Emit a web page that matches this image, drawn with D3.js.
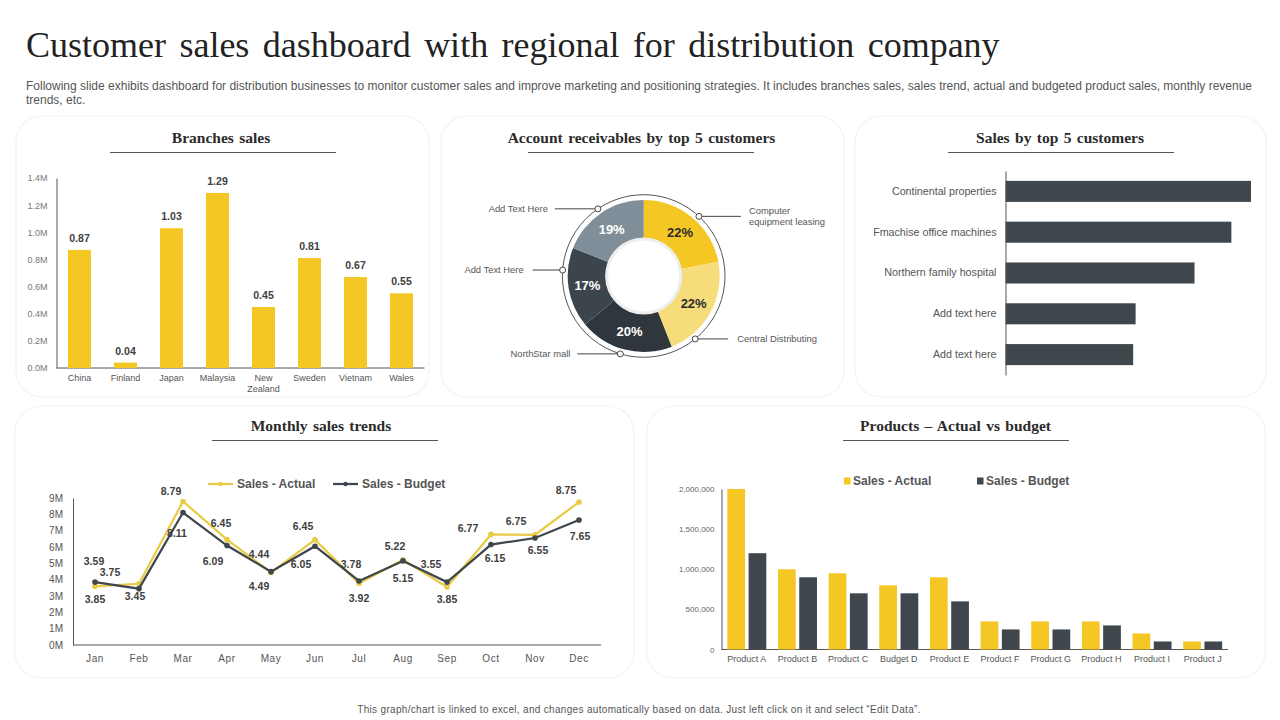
<!DOCTYPE html>
<html>
<head>
<meta charset="utf-8">
<script src="https://cdn.jsdelivr.net/npm/d3@7"></script>
<style>
  body { margin: 0; background: #fff; }
  text { font-family: "Liberation Sans", Arial, sans-serif; }
  .serif { font-family: "Liberation Serif", "Times New Roman", serif; }
  .domain { stroke: #555; }
</style>
</head>
<body>
<div id="chart"></div>
<script>
// branches sales
const branches = ["China", "Finland", "Japan", "Malaysia", "New Zealand", "Sweden", "Vietnam", "Wales"];
const branchSales = [0.87, 0.04, 1.03, 1.29, 0.45, 0.81, 0.67, 0.55];
const branchTicks = [0, 0.2, 0.4, 0.6, 0.8, 1.0, 1.2, 1.4];

// account receivables
const receivableShares = [22, 22, 20, 17, 19];
const receivableColors = ["#F4C724", "#F7DC7B", "#2F363C", "#3D454C", "#7F8E99"];
const receivableLabelColors = ["#2b2b2b", "#2b2b2b", "#fff", "#fff", "#fff"];
const calloutLabels = [["Computer", "equipment leasing"], ["Central Distributing"], ["NorthStar mall"], ["Add Text Here"], ["Add Text Here"]];
const calloutAngles = [42.8, 140.7, 196.7, 274.2, 325.7];
const calloutLengths = [42, 33, 43, 30, 43];
const calloutGaps = [8, 9, 7, 9, 7];

// top customers
const customers = ["Continental properties", "Fmachise office machines", "Northern family hospital", "Add text here", "Add text here "];
const customerSales = [100, 92, 77, 53, 52];

// monthly trends
const months = ["Jan", "Feb", "Mar", "Apr", "May", "Jun", "Jul", "Aug", "Sep", "Oct", "Nov", "Dec"];
const salesActual = [3.59, 3.75, 8.79, 6.45, 4.44, 6.45, 3.78, 5.22, 3.55, 6.77, 6.75, 8.75];
const salesBudget = [3.85, 3.45, 8.11, 6.09, 4.49, 6.05, 3.92, 5.15, 3.85, 6.15, 6.55, 7.65];
const monthTicks = [0, 1, 2, 3, 4, 5, 6, 7, 8, 9];
// label nudges, px from the point
const actualNudge = [[-1,-25],[-29,-11],[-12,-10],[-6,-16],[-12,-18],[-12,-13],[-8,-19],[-8,-13],[-16,-23],[-23,-6],[-19,-13],[-13,-12]];
const budgetNudge = [[0,17],[-4,8],[-6,21],[-14,16],[-12,15],[-14,18],[0,17],[0,17],[0,17],[4,14],[3,12],[1,16]];

// products
const products = ["Product A", "Product B", "Product C", "Budget D", "Product E", "Product F", "Product G", "Product H", "Product I", "Product J"];
const productActual = [2000000, 1000000, 950000, 800000, 900000, 350000, 350000, 350000, 200000, 100000];
const productBudget = [1200000, 900000, 700000, 700000, 600000, 250000, 250000, 300000, 100000, 100000];
const productTicks = [0, 500000, 1000000, 1500000, 2000000];
const productSeries = ["Sales - Actual", "Sales - Budget"];

const yellow = "#F4C724", dark = "#3F474D", lineYellow = "#E9CB45";

const svg = d3.select("#chart").append("svg")
  .attr("width", 1280)
  .attr("height", 720)
  .style("display", "block");

// header
svg.append("text").attr("class", "serif")
  .attr("x", 26).attr("y", 57)
  .style("font-size", "36px").style("word-spacing", "4.4px").attr("fill", "#222")
  .text("Customer sales dashboard with regional for distribution company");

const intro = [
  "Following slide exhibits dashboard for distribution businesses to monitor customer sales and improve marketing and positioning strategies. It includes branches sales, sales trend, actual and budgeted product sales, monthly revenue",
  "trends, etc."
];
svg.selectAll(".intro").data(intro).join("text")
  .attr("class", "intro")
  .attr("x", 26).attr("y", (d, i) => 90 + i * 14)
  .style("font-size", "12px").attr("fill", "#555")
  .text(d => d);

svg.append("text")
  .attr("x", 639).attr("y", 713).attr("text-anchor", "middle")
  .style("font-size", "10px").style("letter-spacing", "0.32px").attr("fill", "#555")
  .text("This graph/chart is linked to excel, and changes automatically based on data. Just left click on it and select \u201CEdit Data\u201D.");

// cards
function card(x0, y0, x1, y1, title, titleX, cx, ruleY) {
  svg.append("rect")
    .attr("x", x0).attr("y", y0)
    .attr("width", x1 - x0).attr("height", y1 - y0)
    .attr("rx", 26)
    .attr("fill", "#fff").attr("stroke", "#f4f5f6").attr("stroke-width", 1.5);
  svg.append("text").attr("class", "serif")
    .attr("x", titleX).attr("y", ruleY - 10).attr("text-anchor", "middle")
    .style("font-size", "15.5px").style("font-weight", "bold").style("word-spacing", "1.5px").attr("fill", "#2b2b2b")
    .text(title);
  svg.append("line")
    .attr("x1", cx - 113).attr("x2", cx + 113)
    .attr("y1", ruleY).attr("y2", ruleY)
    .attr("stroke", "#555");
}
card(16, 116, 429, 397, "Branches sales", 221, 223, 152.5);
card(441, 116, 844, 397, "Account receivables by top 5 customers", 641.5, 641, 152.5);
card(855, 116, 1266, 397, "Sales by top 5 customers", 1060, 1061, 152.5);
card(15, 406, 634, 678, "Monthly sales trends", 321, 325, 440.5);
card(647, 406, 1265, 678, "Products  \u2013 Actual vs budget", 955.5, 956, 440.5);

function styleAxis(g, size, color) {
  g.selectAll("text").style("font-size", size).attr("fill", color);
  g.selectAll(".tick line").remove();
}

// Branches sales
{
  const x = d3.scaleBand().domain(branches).range([56.5, 424.5]);
  const y = d3.scaleLinear().domain([0, 1.4]).range([368, 178]);

  svg.append("g").attr("transform", "translate(56.5,0)")
    .call(d3.axisLeft(y).tickValues(branchTicks).tickFormat(d => d.toFixed(1) + "M").tickSize(0).tickPadding(9))
    .call(styleAxis, "9px", "#777");
  const xAxis = svg.append("g").attr("transform", "translate(0,368)")
    .call(d3.axisBottom(x).tickSize(0).tickPadding(7))
    .call(styleAxis, "9px", "#555");
  xAxis.select(".domain").attr("d", "M56.5,0H424.5");

  // wrap the two word category
  xAxis.selectAll("text").each(function (d) {
    const words = d.split(" ");
    if (words.length < 2) return;
    const t = d3.select(this).text(null);
    words.forEach((w, i) => t.append("tspan").attr("x", 0).attr("dy", i ? "1.2em" : "0.71em").text(w));
    t.attr("dy", null);
  });

  const barW = 23;
  svg.selectAll(".branch").data(branches).join("rect")
    .attr("class", "branch")
    .attr("x", d => x(d) + x.bandwidth() / 2 - barW / 2)
    .attr("y", (d, i) => y(branchSales[i]))
    .attr("width", barW)
    .attr("height", (d, i) => y(0) - y(branchSales[i]))
    .attr("fill", yellow);
  svg.selectAll(".branch-label").data(branches).join("text")
    .attr("class", "branch-label")
    .attr("x", d => x(d) + x.bandwidth() / 2)
    .attr("y", (d, i) => y(branchSales[i]) - 8)
    .attr("text-anchor", "middle")
    .style("font-size", "10.5px").style("font-weight", "bold").attr("fill", "#404040")
    .text((d, i) => branchSales[i].toFixed(2));
}

// Account receivables donut
{
  const g = svg.append("g").attr("transform", "translate(643.7,276)");
  const pie = d3.pie().sort(null)(receivableShares);
  const arc = d3.arc().innerRadius(38).outerRadius(76);
  const labelArc = d3.arc().innerRadius(57).outerRadius(57);
  const ringR = 81.3;

  g.append("circle").attr("r", ringR).attr("fill", "none").attr("stroke", "#555").attr("stroke-width", 1);
  g.selectAll(".slice").data(pie).join("path")
    .attr("class", "slice")
    .attr("d", arc)
    .attr("fill", (d, i) => receivableColors[i]);
  g.append("circle").attr("r", 37).attr("fill", "#fff").attr("stroke", "#eeeeee").attr("stroke-width", 3);
  g.selectAll(".share").data(pie).join("text")
    .attr("class", "share")
    .attr("transform", d => `translate(${labelArc.centroid(d)})`)
    .attr("text-anchor", "middle").attr("dy", "0.36em")
    .style("font-size", "13px").style("font-weight", "bold")
    .attr("fill", (d, i) => receivableLabelColors[i])
    .text(d => d.data + "%");

  calloutAngles.forEach((deg, i) => {
    const [px, py] = d3.pointRadial(deg * Math.PI / 180, ringR);
    const side = deg < 180 ? 1 : -1;
    const endX = px + side * calloutLengths[i];
    g.append("line").attr("x1", px).attr("x2", endX).attr("y1", py).attr("y2", py).attr("stroke", "#444");
    g.append("circle").attr("cx", px).attr("cy", py).attr("r", 3).attr("fill", "#fff").attr("stroke", "#444");
    const lines = calloutLabels[i];
    g.selectAll(null).data(lines).join("text")
      .attr("x", endX + side * calloutGaps[i])
      .attr("y", (d, j) => py + 3 + (j - (lines.length - 1) / 2) * 11)
      .attr("text-anchor", side > 0 ? "start" : "end")
      .style("font-size", "9.4px").attr("fill", "#555")
      .text(d => d);
  });
}

// Sales by top 5 customers
{
  const y = d3.scaleBand().domain(customers).range([171, 375]).paddingInner(0.484).paddingOuter(0.242);
  const x = d3.scaleLinear().domain([0, 100]).range([1005.5, 1251]);

  svg.selectAll(".customer").data(customers).join("rect")
    .attr("class", "customer")
    .attr("x", x(0))
    .attr("y", d => y(d))
    .attr("width", (d, i) => x(customerSales[i]) - x(0))
    .attr("height", y.bandwidth())
    .attr("fill", dark);
  svg.append("g").attr("transform", "translate(1005.5,0)")
    .call(d3.axisLeft(y).tickSize(0).tickPadding(9))
    .call(styleAxis, "10.7px", "#555");
}

// Monthly sales trends
{
  const x = d3.scaleBand().domain(months).range([73, 601]);
  const y = d3.scaleLinear().domain([0, 9]).range([645, 498]);
  const cx = d => x(d) + x.bandwidth() / 2;

  svg.append("g").attr("transform", "translate(73,0)")
    .call(d3.axisLeft(y).tickValues(monthTicks).tickFormat(d => d + "M").tickSize(0).tickPadding(10))
    .call(styleAxis, "10px", "#555");
  svg.append("g").attr("transform", "translate(0,645)")
    .call(d3.axisBottom(x).tickSize(0).tickPadding(10))
    .call(styleAxis, "10px", "#555")
    .call(g => g.selectAll("text").style("letter-spacing", "0.6px"))
    .select(".domain").attr("d", "M73,0H601");

  const line = d3.line().x((d, i) => cx(months[i])).y(d => y(d));
  [[salesActual, lineYellow, actualNudge], [salesBudget, dark, budgetNudge]].forEach(([vals, color, nudge]) => {
    svg.append("path").datum(vals)
      .attr("d", line).attr("fill", "none").attr("stroke", color).attr("stroke-width", 2.25);
    svg.selectAll(null).data(vals).join("circle")
      .attr("cx", (d, i) => cx(months[i])).attr("cy", d => y(d)).attr("r", 2.8)
      .attr("fill", color);
    svg.selectAll(null).data(vals).join("text")
      .attr("x", (d, i) => cx(months[i]) + nudge[i][0])
      .attr("y", (d, i) => y(d) + nudge[i][1])
      .attr("dy", "0.35em").attr("text-anchor", "middle")
      .style("font-size", "10.5px").style("font-weight", "bold").attr("fill", "#404040")
      .text(d => d.toFixed(2));
  });

  // legend
  const legend = svg.append("g").attr("transform", "translate(0,484)");
  [["Sales - Actual", lineYellow, 208], ["Sales - Budget", dark, 333]].forEach(([name, color, lx]) => {
    legend.append("line").attr("x1", lx).attr("x2", lx + 25).attr("stroke", color).attr("stroke-width", 2.25);
    legend.append("circle").attr("cx", lx + 12.5).attr("r", 2.2).attr("fill", color);
    legend.append("text").attr("x", lx + 29).attr("dy", "0.35em")
      .style("font-size", "12px").style("font-weight", "bold").attr("fill", "#555")
      .text(name);
  });
}

// Products actual vs budget
{
  const x0 = d3.scaleBand().domain(products).range([721.5, 1228]).paddingInner(0.23).paddingOuter(0.115);
  const x1 = d3.scaleBand().domain(productSeries).range([0, x0.bandwidth()]).paddingInner(1 / 6);
  const y = d3.scaleLinear().domain([0, 2000000]).range([649.5, 489]);
  const color = d3.scaleOrdinal().domain(productSeries).range([yellow, dark]);

  svg.append("g").attr("transform", "translate(721.5,0)")
    .call(d3.axisLeft(y).tickValues(productTicks).tickFormat(d3.format(",")).tickSize(0).tickPadding(7))
    .call(styleAxis, "8px", "#666");
  svg.append("g").attr("transform", "translate(0,649.5)")
    .call(d3.axisBottom(x0).tickSize(0).tickPadding(6))
    .call(styleAxis, "9px", "#555")
    .select(".domain").attr("d", "M721.5,0H1228");

  [productActual, productBudget].forEach((vals, s) => {
    svg.selectAll(null).data(vals).join("rect")
      .attr("x", (d, i) => x0(products[i]) + x1(productSeries[s]))
      .attr("y", d => y(d))
      .attr("width", x1.bandwidth())
      .attr("height", d => y(0) - y(d))
      .attr("fill", color(productSeries[s]));
  });

  const legend = svg.append("g").attr("transform", "translate(0,481)");
  [[productSeries[0], 844], [productSeries[1], 977]].forEach(([name, lx]) => {
    legend.append("rect").attr("x", lx).attr("y", -3.5).attr("width", 6.5).attr("height", 7).attr("fill", color(name));
    legend.append("text").attr("x", lx + 9).attr("dy", "0.35em")
      .style("font-size", "12px").style("font-weight", "bold").attr("fill", "#555")
      .text(name);
  });
}
</script>
</body>
</html>
